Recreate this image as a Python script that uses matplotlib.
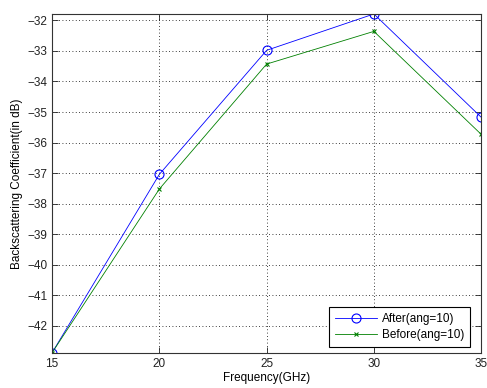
import matplotlib
matplotlib.use("Agg")
import matplotlib.pyplot as plt

# data
freq = [15, 20, 25, 30, 35]
after_vals = [-42.88, -37.04, -32.98, -31.79, -35.17]
before_vals = [-42.88, -37.52, -33.43, -32.36, -35.73]
x_ticks = [15, 20, 25, 30, 35]
y_ticks = list(range(-42, -31))

plt.rcParams['font.family'] = ['Liberation Sans', 'DejaVu Sans']
plt.rcParams['font.size'] = 8.5

fig = plt.figure(figsize=(4.87, 3.88), dpi=100)
ax = fig.add_axes([0.107, 0.091, 0.881, 0.873])

ax.plot(freq, after_vals, color='#0000ff', linewidth=0.6, marker='o',
        markersize=6.5, markerfacecolor='none', markeredgecolor='#0000ff',
        markeredgewidth=0.8, label='After(ang=10)')
ax.plot(freq, before_vals, color='#008000', linewidth=0.6, marker='x',
        markersize=3.5, markeredgewidth=0.8, label='Before(ang=10)')

ax.set_xlim(15, 35)
ax.set_ylim(min(after_vals + before_vals), max(after_vals + before_vals))
ax.set_xticks(x_ticks)
ax.set_yticks(y_ticks)
ax.grid(True, linestyle=(0, (1, 3)), color='black', linewidth=0.6)
ax.tick_params(direction='in', top=True, right=True, length=4, width=0.6,
               labelsize=8.5, colors='#222222')
for s in ax.spines.values():
    s.set_linewidth(0.8)
    s.set_color('#333333')

ax.set_xlabel('Frequency(GHz)', fontsize=8.5, labelpad=2)
ax.set_ylabel('Backscattering Coefficient(in dB)', fontsize=8.5, labelpad=3)

leg = ax.legend(loc='lower right', bbox_to_anchor=(0.974, 0.017),
                fancybox=False, framealpha=1, edgecolor='black',
                fontsize=8.5, borderaxespad=0, handlelength=3.6,
                handletextpad=0.4, borderpad=0.5, labelspacing=0.35)
leg.get_frame().set_linewidth(0.8)

fig.savefig('out.png', dpi=100)
